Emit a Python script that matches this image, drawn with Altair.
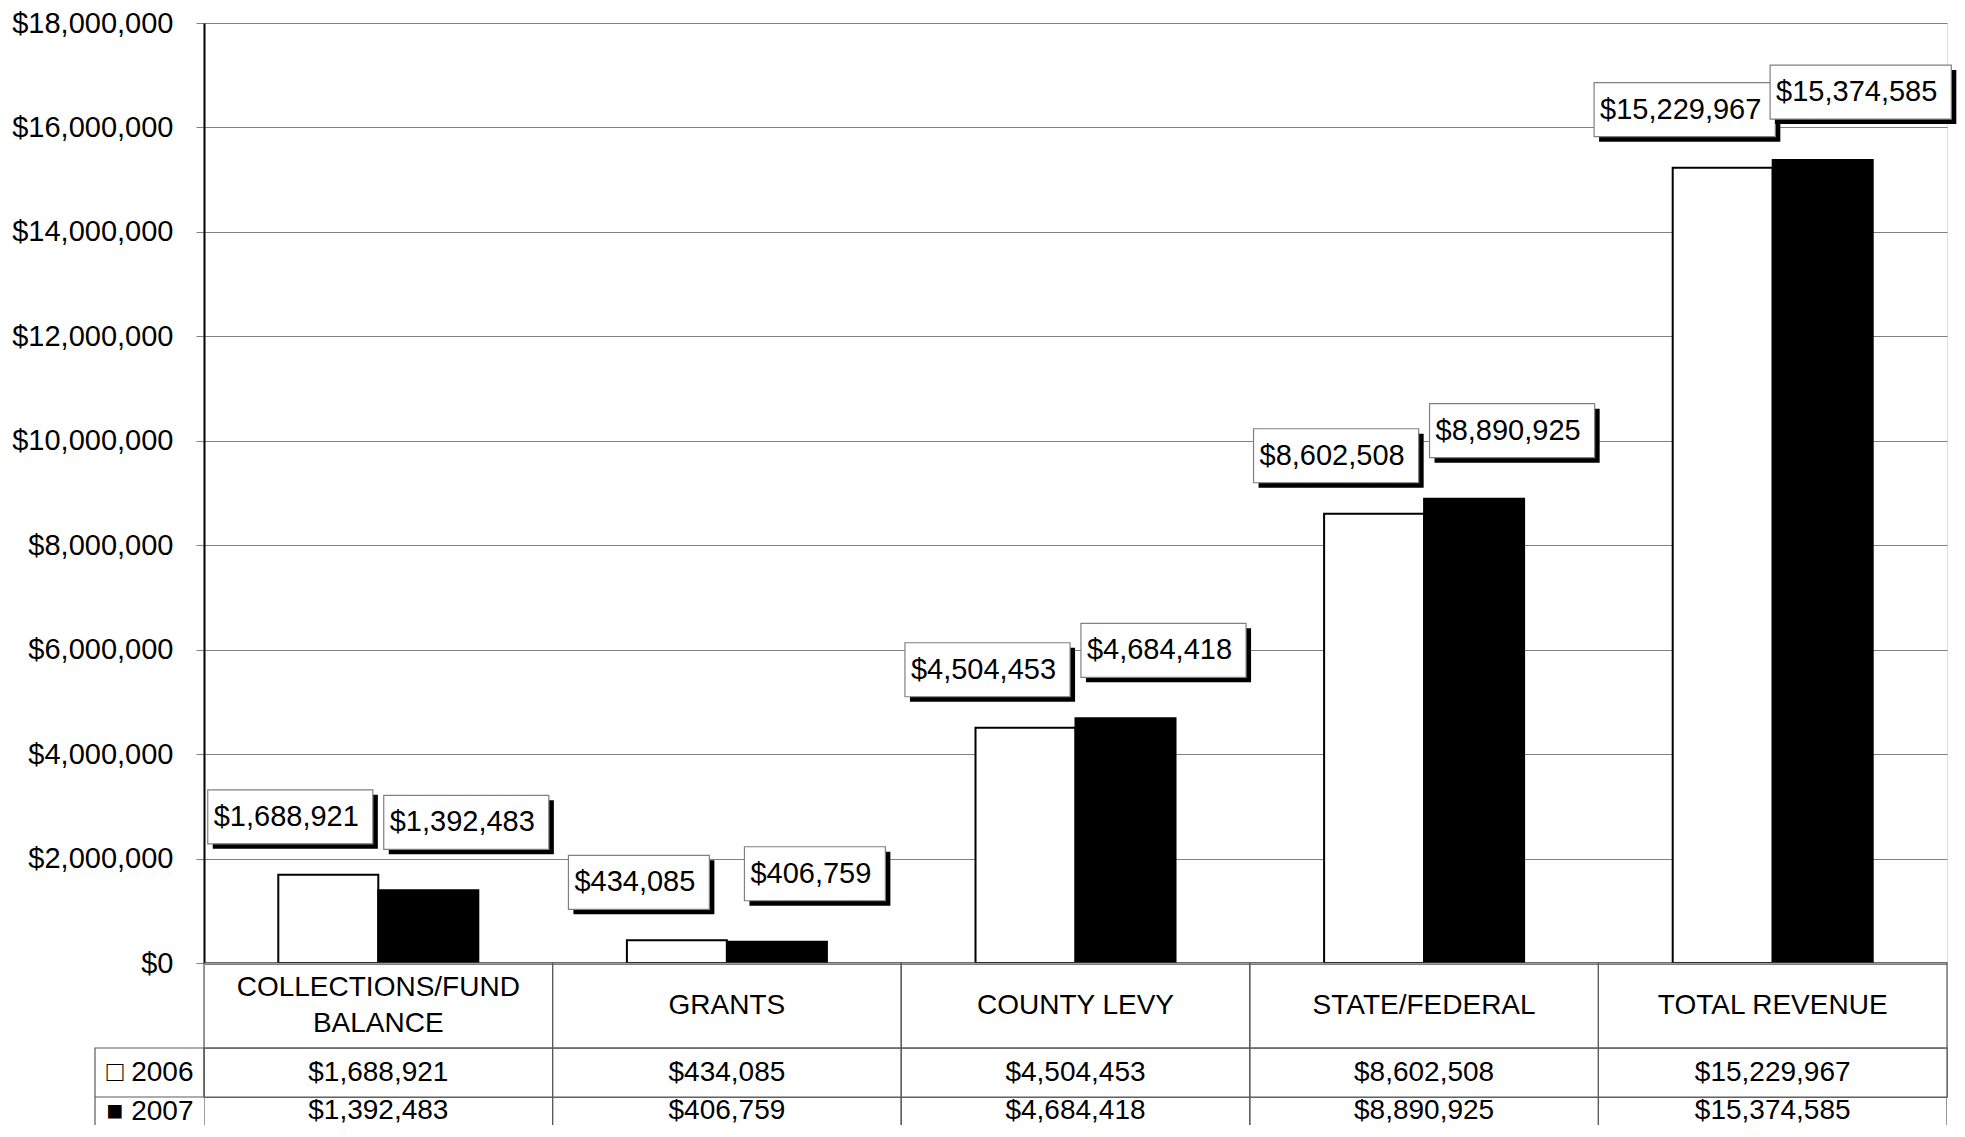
import altair as alt
import pandas as pd

# ---- data ----
categories = ["COLLECTIONS/FUND BALANCE", "GRANTS", "COUNTY LEVY", "STATE/FEDERAL", "TOTAL REVENUE"]
category_lines = [["COLLECTIONS/FUND", "BALANCE"], ["GRANTS"], ["COUNTY LEVY"], ["STATE/FEDERAL"], ["TOTAL REVENUE"]]
series = ["2006", "2007"]
values_2006 = [1688921, 434085, 4504453, 8602508, 15229967]
values_2007 = [1392483, 406759, 4684418, 8890925, 15374585]
y_ticks = [0, 2000000, 4000000, 6000000, 8000000, 10000000, 12000000, 14000000, 16000000, 18000000]

rows = []
for s, vals in zip(series, [values_2006, values_2007]):
    for c, v in zip(categories, vals):
        rows.append({"category": c, "series": s, "value": v, "label": "${:,}".format(v)})
df = pd.DataFrame(rows)
hdr = pd.DataFrame({"category": categories, "lines": category_lines,
                    "nlines": [len(l) for l in category_lines]})
leg = pd.DataFrame({"series": series})

# ---- style ----
FONT = "Liberation Sans"
FS = 29          # axis + data labels
FS_T = 28        # table text
W = 1743
H_PLOT = 940
H_HDR = 85
ROW_H = {"2006": 49, "2007": 28}
GRID = "#808080"
TABLE = "#5a5a5a"
BOX_H = 54
SHADOW = 5
LINE_H = 36
LEG_W = 109

xscale = alt.Scale(domain=categories, paddingInner=0, paddingOuter=0)
x_enc = alt.X("category:N", scale=xscale, sort=categories,
              axis=alt.Axis(labels=False, ticks=False, title=None, domain=True,
                            domainColor="black", domainWidth=2, grid=False))
y_enc = alt.Y("value:Q", scale=alt.Scale(domain=[0, 18000000], nice=False, zero=True),
              axis=alt.Axis(values=y_ticks, format="$,.0f", title=None,
                            labelFont=FONT, labelFontSize=FS, labelColor="black",
                            labelPadding=23, tickSize=8, tickColor=GRID,
                            domainColor="black", domainWidth=2,
                            grid=True, gridColor=GRID, gridWidth=1))

base = alt.Chart(df).encode(x=x_enc)

bars = base.mark_bar(stroke="black", strokeWidth=2).encode(
    xOffset=alt.XOffset("series:N", sort=series,
                        scale=alt.Scale(domain=series, paddingInner=0, paddingOuter=0.743)),
    y=y_enc,
    fill=alt.Fill("series:N", scale=alt.Scale(domain=series, range=["white", "black"]), legend=None),
)


def text_width(n_digits_like, n_commas):
    return (n_digits_like * 0.556 + n_commas * 0.278) * FS


layers = [bars]
# label boxes with drop shadows, one set per series and label length
label_pos = {"2006": (-88, 31), "2007": (88, 41)}
for s in series:
    dx, gap = label_pos[s]
    lengths = sorted(set(len(l) for l in df[df.series == s]["label"]))
    for n in lengths:
        commas = 2 if n >= 10 else 1
        bw = text_width(n - commas, commas) + 20
        flt = f"datum.series == '{s}' && length(datum.label) == {n}"
        shadow = base.mark_bar(width=bw, fill="black", xOffset=dx + SHADOW,
                               yOffset=-gap + SHADOW, y2Offset=-gap - BOX_H + SHADOW).encode(
            y=y_enc, y2=alt.Y2("value:Q")).transform_filter(flt)
        box = base.mark_bar(width=bw, fill="white", stroke=GRID, strokeWidth=1.2, xOffset=dx,
                            yOffset=-gap, y2Offset=-gap - BOX_H).encode(
            y=y_enc, y2=alt.Y2("value:Q")).transform_filter(flt)
        layers += [shadow, box]
    txt = base.mark_text(font=FONT, fontSize=FS, color="black", align="center", baseline="middle",
                         xOffset=dx - 4, yOffset=-gap - BOX_H / 2).encode(
        y=y_enc, text="label:N").transform_filter(f"datum.series == '{s}'")
    layers.append(txt)

top = alt.layer(*layers).properties(width=W, height=H_PLOT)

# ---- data table: category header row ----
hx = alt.X("category:N", scale=xscale, sort=categories, axis=None)
hdr_layers = [alt.Chart(hdr).mark_rect(filled=False, stroke=TABLE, strokeWidth=1.2).encode(x=hx)]
for n in sorted(set(hdr["nlines"])):
    hdr_layers.append(
        alt.Chart(hdr).mark_text(font=FONT, fontSize=FS_T, color="black", lineHeight=LINE_H,
                                 baseline="middle", dy=-(n - 1) * LINE_H / 2)
        .encode(x=hx, text="lines").transform_filter(f"datum.nlines == {n}")
    )
header = alt.layer(*hdr_layers).properties(width=W, height=H_HDR)

# ---- data table: value rows with legend cells ----
row_charts = []
for i, s in enumerate(series):
    last = i == len(series) - 1
    rh = ROW_H[s]
    yrow = alt.Y("series:N", scale=alt.Scale(domain=[s], paddingInner=0, paddingOuter=0),
                 axis=alt.Axis(title=None, domain=False, ticks=False, grid=False,
                               labelExpr="(datum.value == '2006' ? '\u25a1 ' : '\u25a0 ') + datum.value",
                               labelFont=FONT, labelFontSize=FS_T, labelColor="black",
                               labelPadding=11))
    row_df = df[df.series == s]
    if not last:
        cells = alt.Chart(row_df).mark_rect(filled=False, stroke=TABLE, strokeWidth=1.2).encode(
            x=hx, y=yrow)
        legcell = alt.Chart(leg[leg.series == s]).mark_rect(
            filled=False, stroke=TABLE, strokeWidth=1.2).encode(
            x=alt.value(-LEG_W), x2=alt.value(0), y=yrow)
        view = alt.ViewBackground(stroke=GRID, strokeWidth=1)
    else:
        # last row runs off the bottom of the page: no bottom border
        cells = alt.Chart(row_df).mark_rect(filled=False, stroke=TABLE, strokeWidth=1.2, clip=True).encode(
            x=hx, y=alt.value(0), y2=alt.value(rh + 12))
        legcell = alt.Chart(leg[leg.series == s]).mark_rule(color=TABLE, strokeWidth=1.2).encode(
            x=alt.value(-LEG_W), y=alt.value(0), y2=alt.value(rh))
        view = alt.ViewBackground(stroke="transparent")
    texts = alt.Chart(row_df).mark_text(font=FONT, fontSize=FS_T, color="black", baseline="middle").encode(
        x=hx, y=yrow, text="label:N")
    row = alt.layer(cells, legcell, texts).properties(width=W, height=rh, view=view)
    row_charts.append(row)

chart = alt.vconcat(top, header, *row_charts, spacing=0, bounds="flush").properties(
    padding={"left": 3, "top": 0, "right": 0, "bottom": 0}
).configure_view(stroke=GRID, strokeWidth=1).configure(font=FONT, background="white")

chart.save("out.html", embed_options={"renderer": "svg", "actions": False})
